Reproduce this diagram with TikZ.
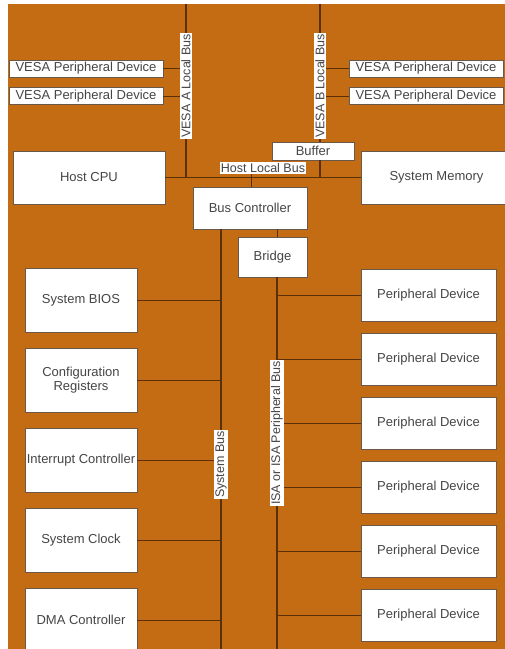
\documentclass[tikz,border=0pt]{standalone}
\usepackage{fontspec}
\setmainfont{Liberation Sans}
\usetikzlibrary{positioning,calc}
\definecolor{backdrop}{HTML}{C46C14}
\definecolor{wire}{HTML}{5A3008}
\definecolor{ink}{HTML}{454545}
\definecolor{rim}{HTML}{6A5848}
\tikzset{
  unit/.style={draw=rim, fill=white, line width=0.8pt, inner sep=0pt, outer sep=0pt,
               align=center, font=\fontsize{13}{14}\selectfont, text=ink},
  slim/.style={unit, minimum width=154, minimum height=17},
  card/.style={unit, minimum width=112, minimum height=64},
  periph/.style={unit, minimum width=135, minimum height=52},
  busline/.style={wire, line width=1.4pt},
  tap/.style={wire, line width=1pt},
  buslabel/.style={fill=white, inner sep=1pt, font=\fontsize{12.5}{14}\selectfont, text=ink},
}

\begin{document}
\begin{tikzpicture}[x=1pt, y=-1pt]
    \useasboundingbox (0,0) rectangle (505,649);
    \fill[backdrop] (8,4) rectangle (505,649);

    % top of the local buses, bottom of the lower buses
    \coordinate (atop) at (186,4);
    \coordinate (btop) at (320,4);
    \coordinate (hbtap) at (251,168);
    \coordinate (sysend) at (221,649);
    \coordinate (isaend) at (277,649);

    % host side
    \node[unit, minimum width=152, minimum height=53] (cpu) at (89,177.5) {Host CPU};
    \node[unit, minimum width=151, minimum height=53] (mem) at (436.5,177.5) {System Memory};
    \node[unit, minimum width=82, minimum height=18] (buf) at (313,151) {Buffer};
    \node[unit, minimum width=114, minimum height=42] (bc) at (250,208) {Bus Controller};
    \node[unit, minimum width=69, minimum height=40] (br) at (272.5,257) {Bridge};

    % VESA devices
    \node[slim] (va1) at (86,68.5) {VESA Peripheral Device};
    \node[slim] (va2) at (86,96) {VESA Peripheral Device};
    \node[slim] (vb1) at (426,68.5) {VESA Peripheral Device};
    \node[slim] (vb2) at (426,96) {VESA Peripheral Device};

    % system bus devices
    \node[card] (bios) at (81,300) {System BIOS};
    \node[card, below=16pt of bios] (cfg) {Configuration\\Registers};
    \node[card, below=16pt of cfg] (irq) {Interrupt Controller};
    \node[card, below=16pt of irq] (clk) {System Clock};
    \node[card, below=16pt of clk] (dma) {DMA Controller};

    % peripheral bus devices
    \node[periph] (p1) at (428.5,295) {Peripheral Device};
    \node[periph, below=12pt of p1] (p2) {Peripheral Device};
    \node[periph, below=12pt of p2] (p3) {Peripheral Device};
    \node[periph, below=12pt of p3] (p4) {Peripheral Device};
    \node[periph, below=12pt of p4] (p5) {Peripheral Device};
    \node[periph, below=12pt of p5] (p6) {Peripheral Device};

    % buses
    \draw[busline] (cpu.east) -- (mem.west);
    \draw[busline] (atop) -- (atop |- cpu.east);
    \draw[busline] (btop) -- (btop |- buf.north);
    \draw[busline] (btop |- buf.south) -- (btop |- mem.west);
    \draw[busline] (bc.south -| sysend) -- (sysend);
    \draw[busline] (br.south -| isaend) -- (isaend);
    \draw[tap] (hbtap) -- (hbtap |- bc.north);
    \draw[tap] (br.north -| isaend) -- (bc.south -| isaend);

    % taps onto the buses
    \draw[tap] (va1.east) -- (va1.east -| atop);
    \draw[tap] (va2.east) -- (va2.east -| atop);
    \draw[tap] (vb1.west) -- (vb1.west -| btop);
    \draw[tap] (vb2.west) -- (vb2.west -| btop);
    \draw[tap] (bios.east) -- (bios.east -| sysend);
    \draw[tap] (cfg.east) -- (cfg.east -| sysend);
    \draw[tap] (irq.east) -- (irq.east -| sysend);
    \draw[tap] (clk.east) -- (clk.east -| sysend);
    \draw[tap] (dma.east) -- (dma.east -| sysend);
    \draw[tap] (p1.west) -- (p1.west -| isaend);
    \draw[tap] (p2.west) -- (p2.west -| isaend);
    \draw[tap] (p3.west) -- (p3.west -| isaend);
    \draw[tap] (p4.west) -- (p4.west -| isaend);
    \draw[tap] (p5.west) -- (p5.west -| isaend);
    \draw[tap] (p6.west) -- (p6.west -| isaend);

    % bus names
    \node[buslabel, rotate=90] (alab) at (186,86) {VESA A Local Bus};
    \node[buslabel, rotate=90] (blab) at (320,86) {VESA B Local Bus};
    \node[buslabel] (hlab) at (263,168) {Host Local Bus};
    \node[buslabel, rotate=90] (slab) at (221,464.5) {System Bus};
    \node[buslabel, rotate=90] (ilab) at (277,433) {ISA or ISA Peripheral Bus};
  \end{tikzpicture}
\end{document}
